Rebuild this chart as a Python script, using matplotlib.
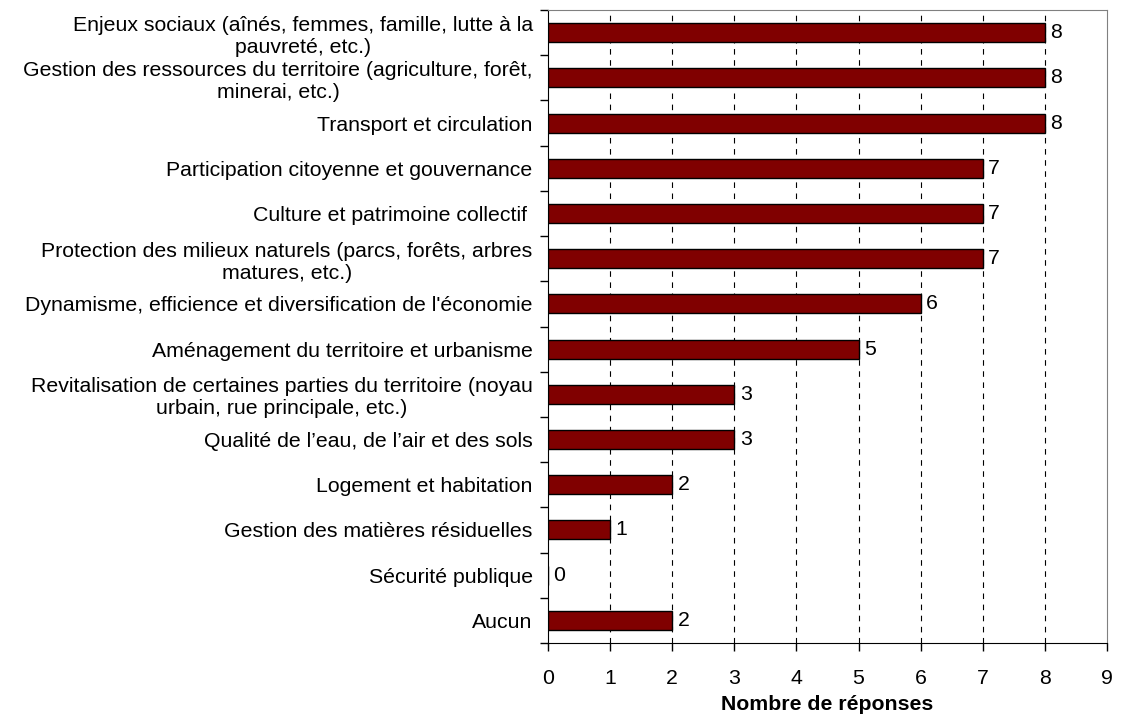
import numpy as np
import matplotlib
matplotlib.use("Agg")
import matplotlib.pyplot as plt

categories = [
    "Enjeux sociaux (aînés, femmes, famille, lutte à la\npauvreté, etc.)",
    "Gestion des ressources du territoire (agriculture, forêt,\nminerai, etc.)",
    "Transport et circulation",
    "Participation citoyenne et gouvernance",
    "Culture et patrimoine collectif ",
    "Protection des milieux naturels (parcs, forêts, arbres\nmatures, etc.)",
    "Dynamisme, efficience et diversification de l'économie",
    "Aménagement du territoire et urbanisme",
    "Revitalisation de certaines parties du territoire (noyau\nurbain, rue principale, etc.)",
    "Qualité de l’eau, de l’air et des sols",
    "Logement et habitation",
    "Gestion des matières résiduelles",
    "Sécurité publique",
    "Aucun",
]
responses = [8, 8, 8, 7, 7, 7, 6, 5, 3, 3, 2, 1, 0, 2]
x_ticks = list(range(0, 10))

plt.rcParams["font.family"] = ["Liberation Sans", "DejaVu Sans"]
fs = 15.3

fig = plt.figure(figsize=(11.29, 7.23), dpi=100)
ax = fig.add_axes([548 / 1129, 1 - 643 / 723, (1107 - 548) / 1129, (643 - 10) / 723])

y = np.arange(len(categories))
ax.barh(y, responses, height=0.42, color="#800000", edgecolor="black", linewidth=1, zorder=3)

# value at the end of each bar
for yi, v in zip(y, responses):
    ax.text(v + 0.09, yi, str(v), va="center", ha="left", fontsize=fs, zorder=4)

ax.set_xlim(0, 9)
ax.set_ylim(len(categories) - 0.5, -0.5)

ax.set_xticks(x_ticks)
ax.set_xticklabels([str(t) for t in x_ticks], fontsize=fs)
ax.tick_params(axis="x", direction="out", length=6, width=1, pad=13)

ax.set_yticks(y)
ax.set_yticklabels(categories, fontsize=fs, multialignment="center", linespacing=1.2)
ax.tick_params(axis="y", which="major", length=0, pad=11)
# separators between categories
ax.set_yticks(np.arange(len(categories) + 1) - 0.5, minor=True)
ax.tick_params(axis="y", which="minor", direction="out", length=6, width=1)

for t in x_ticks[1:-1]:
    ax.axvline(t, color="black", linestyle=(0, (5, 5)), linewidth=0.8, zorder=1)

ax.spines["left"].set_color("black")
ax.spines["bottom"].set_color("black")
ax.spines["top"].set_color("#808080")
ax.spines["right"].set_color("#808080")

ax.set_xlabel("Nombre de réponses", fontsize=fs, fontweight="bold", labelpad=5)

fig.savefig("out.png", dpi=100)
